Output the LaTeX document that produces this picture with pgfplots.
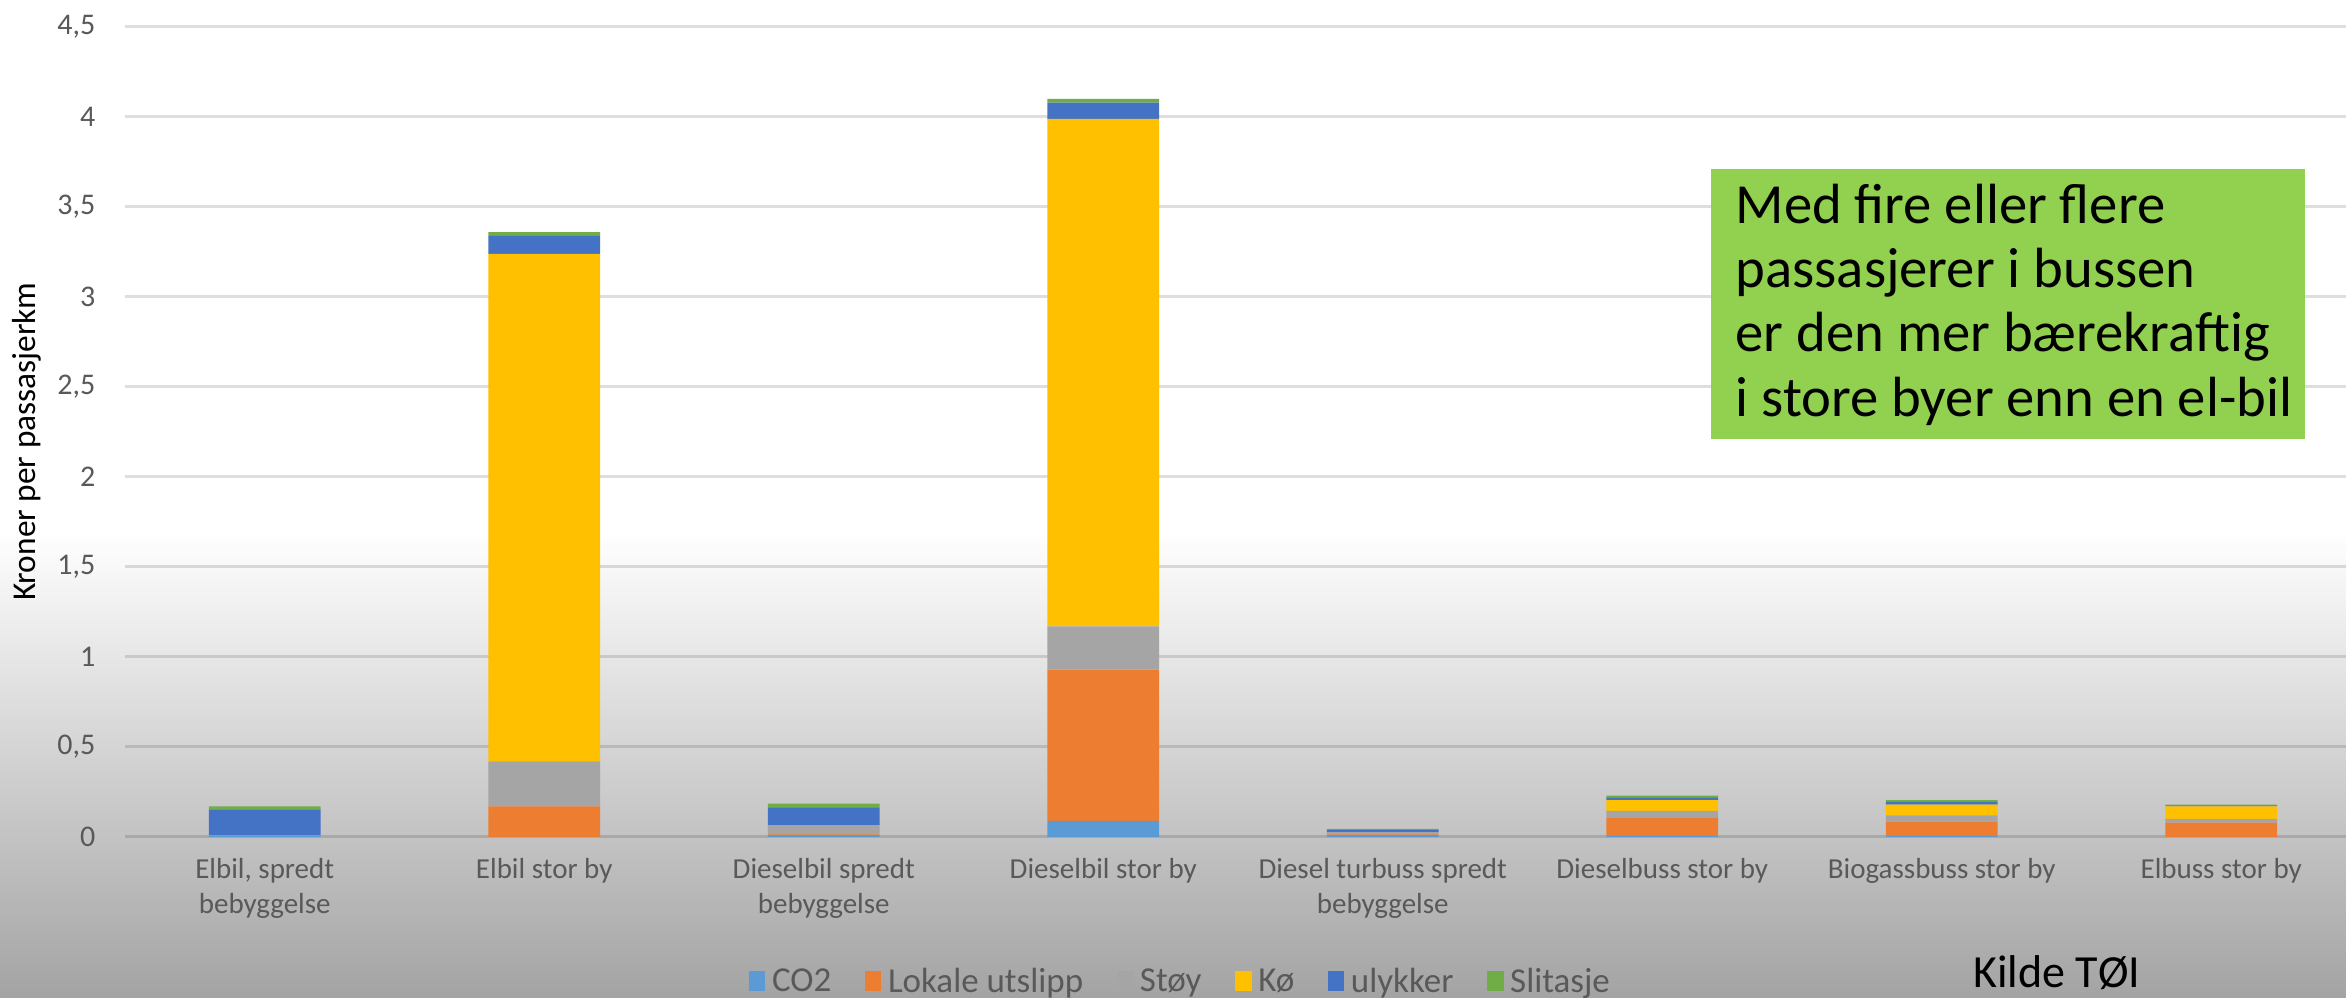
\documentclass[border=0pt]{standalone}
\usepackage{fontspec}
\setmainfont{Carlito}
\usepackage{pgfplots}
\pgfplotsset{compat=1.18}
\usepackage{pgfplotstable}
\usetikzlibrary{backgrounds}

\definecolor{cCO}{HTML}{5B9BD5}
\definecolor{cLok}{HTML}{ED7D31}
\definecolor{cStoy}{HTML}{A5A5A5}
\definecolor{cKo}{HTML}{FFC000}
\definecolor{cUly}{HTML}{4472C4}
\definecolor{cSli}{HTML}{70AD47}
\definecolor{txtgray}{HTML}{595959}
\definecolor{boxgreen}{HTML}{92D050}

% kroner per passasjerkm, one row per category
\pgfplotstableread{
x co2   lok   stoy  ko    ulyk  slit
0 0.005 0.005 0     0     0.14  0.02
1 0     0.17  0.25  2.82  0.10  0.02
2 0.01  0.005 0.05  0     0.10  0.02
3 0.09  0.84  0.24  2.82  0.09  0.02
4 0.01  0.005 0.01  0     0.015 0.005
5 0.005 0.10  0.04  0.06  0.015 0.01
6 0.005 0.08  0.035 0.06  0.015 0.01
7 0     0.08  0.02  0.07  0.005 0.005
}\costs

\begin{document}
\begin{tikzpicture}
\path[use as bounding box] (0,0) rectangle (703.8pt,299.4pt);
\begin{axis}[
  at={(37.5pt,48.3pt)}, anchor=south west,
  scale only axis, width=666.6pt, height=243pt,
  ybar stacked, bar width=0.4,
  xmin=-0.5, xmax=7.45, ymin=0, ymax=4.5,
  axis line style={draw=none},
  major tick length=0pt,
  ytick={0,0.5,1,1.5,2,2.5,3,3.5,4,4.5},
  ymajorgrids,
  grid style={draw=black, draw opacity=0.13, line width=0.9pt},
  /pgf/number format/use comma,
  /pgf/number format/assume math mode=true,
  yticklabel style={font=\fontsize{9}{11}\selectfont, text=txtgray, xshift=-5.4pt},
  xtick={0,...,7},
  xticklabels={{Elbil, spredt\\bebyggelse},{Elbil stor by},{Dieselbil spredt\\bebyggelse},
    {Dieselbil stor by},{Diesel turbuss spredt\\bebyggelse},{Dieselbuss stor by},
    {Biogassbuss stor by},{Elbuss stor by}},
  xticklabel style={align=center, font=\fontsize{8.7}{10.5}\selectfont, text=txtgray, yshift=-3pt},
  ylabel={Kroner per passasjerkm},
  ylabel style={font=\fontsize{9.5}{11}\selectfont, text=txtgray},
  every axis y label/.style={at={(axis description cs:-0.044,0.488)}, rotate=90, anchor=center},
  legend columns=-1,
  legend style={draw=none, fill=none, at={(axis description cs:0.476,-0.18)}, anchor=center,
    font=\fontsize{10.5}{12}\selectfont, text=txtgray,
    /tikz/every even column/.append style={column sep=8pt}},
  legend image code/.code={\fill[#1] (0pt,-2.5pt) rectangle (5pt,3.5pt);},
]
\addplot[fill=cCO, draw=none] table[x=x, y=co2] {\costs};
\addplot[fill=cLok, draw=none] table[x=x, y=lok] {\costs};
\addplot[fill=cStoy, draw=none] table[x=x, y=stoy] {\costs};
\addplot[fill=cKo, draw=none] table[x=x, y=ko] {\costs};
\addplot[fill=cUly, draw=none] table[x=x, y=ulyk] {\costs};
\addplot[fill=cSli, draw=none] table[x=x, y=slit] {\costs};
\legend{CO2, Lokale utslipp, Støy, Kø, ulykker, Slitasje}
\end{axis}

\fill[boxgreen] (513.3pt,167.7pt) rectangle (691.5pt,248.7pt);
\node[anchor=north west, align=left, inner sep=0pt,
  font=\fontsize{17}{19.3}\selectfont]
  at (520.5pt,244.5pt) {Med fire eller flere\\passasjerer i bussen\\er den mer bærekraftig\\i store byer enn en el-bil};

\node[anchor=base, font=\fontsize{13.8}{16}\selectfont] at (617pt,3pt) {Kilde TØI};

\begin{scope}[on background layer]
  \fill[white] (0,0) rectangle (703.8pt,299.4pt);
  \shade[top color=white, bottom color=black!36] (0,0) rectangle (703.8pt,140pt);
\end{scope}
\end{tikzpicture}
\end{document}
